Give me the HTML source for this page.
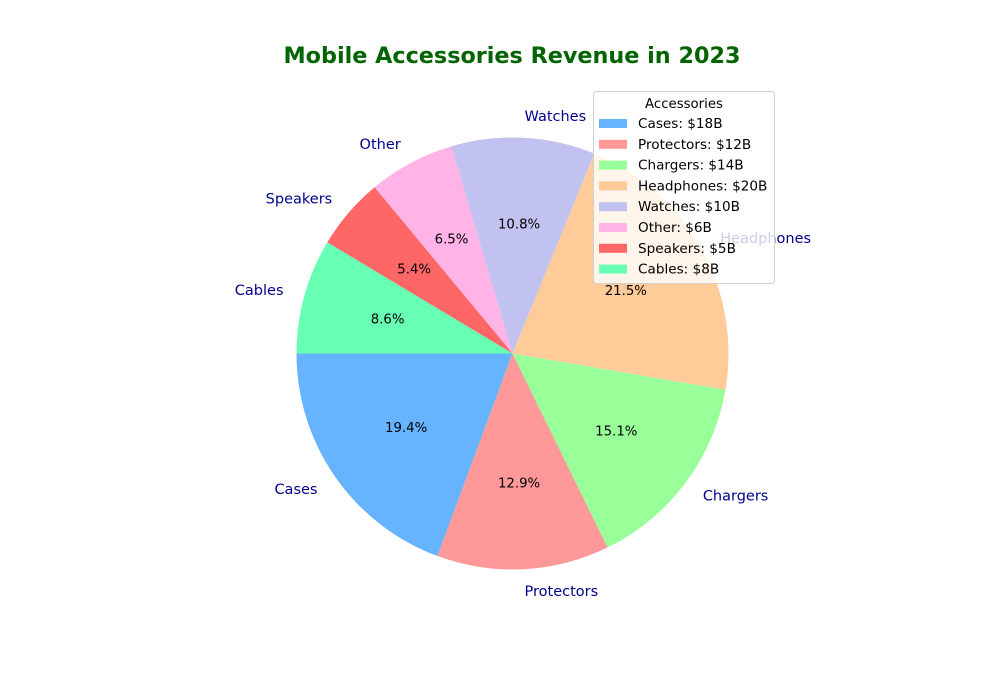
<!DOCTYPE html>
<html><head><meta charset="utf-8"><style>
body{margin:0;background:#fff;}
svg{display:block;font-family:"DejaVu Sans","Liberation Sans",sans-serif;}
</style></head><body>
<svg id="chart" width="1000" height="700">
<text x="512" y="63" text-anchor="middle" font-size="22.3" font-weight="bold" fill="#006400">Mobile Accessories Revenue in 2023</text>
<g id="slices"></g><g id="labels"></g><g id="legend"></g>
</svg>
<script>
const categories=["Cases","Protectors","Chargers","Headphones","Watches","Other","Speakers","Cables"];
const values=[18,12,14,20,10,6,5,8];
const colors=["#66b3ff","#ff9999","#99ff99","#ffcc99","#c2c2f0","#ffb3e6","#ff6666","#66ffb3"];
const NS="http://www.w3.org/2000/svg";
const cx=512.5,cy=353.5,r=216;
const total=values.reduce((a,b)=>a+b,0);
const pt=(deg,rad)=>[cx+rad*Math.cos(deg*Math.PI/180),cy-rad*Math.sin(deg*Math.PI/180)];
const sg=document.getElementById('slices'),lg=document.getElementById('labels'),leg=document.getElementById('legend');
let a=180;
values.forEach((v,i)=>{
  const sweep=v/total*360,a2=a+sweep;
  const [x1,y1]=pt(a,r),[x2,y2]=pt(a2,r);
  const p=document.createElementNS(NS,'path');
  p.setAttribute('d',`M${cx},${cy} L${x1},${y1} A${r},${r} 0 ${sweep>180?1:0} 0 ${x2},${y2} Z`);
  p.setAttribute('fill',colors[i]);
  
  
  sg.appendChild(p);
  const mid=(a+a2)/2;
  const [lx,ly]=pt(mid,r*1.1);
  const t=document.createElementNS(NS,'text');
  t.setAttribute('x',lx);t.setAttribute('y',ly+5);
  t.setAttribute('font-size','14.5');t.setAttribute('fill','#00008b');
  t.setAttribute('text-anchor',Math.cos(mid*Math.PI/180)<0?'end':'start');
  t.textContent=categories[i];
  
  
  lg.appendChild(t);
  const [px,py]=pt(mid,r*0.6);
  const q=document.createElementNS(NS,'text');
  q.setAttribute('x',px);q.setAttribute('y',py+4.5);
  q.setAttribute('font-size','13.3');q.setAttribute('text-anchor','middle');
  q.textContent=(v/total*100).toFixed(1)+'%';
  
  
  lg.appendChild(q);
  a=a2;
});
const box=document.createElementNS(NS,'rect');
box.setAttribute('x',593.5);box.setAttribute('y',91.5);box.setAttribute('width',181);box.setAttribute('height',192);box.setAttribute('rx',3);
box.setAttribute('fill','rgba(255,255,255,0.8)');box.setAttribute('stroke','#d0d0d0');


leg.appendChild(box);
const lt=document.createElementNS(NS,'text');
lt.setAttribute('x',684);lt.setAttribute('y',108);lt.setAttribute('font-size','13.3');lt.setAttribute('text-anchor','middle');
lt.textContent='Accessories';


leg.appendChild(lt);
categories.forEach((c,i)=>{
  const y=123+i*20.8;
  const s=document.createElementNS(NS,'rect');
  s.setAttribute('x',599);s.setAttribute('y',y-4);s.setAttribute('width',28);s.setAttribute('height',9);s.setAttribute('fill',colors[i]);
  
  
  leg.appendChild(s);
  const t=document.createElementNS(NS,'text');
  t.setAttribute('x',638);t.setAttribute('y',y+5);t.setAttribute('font-size','13.6');
  t.textContent=c+': $'+values[i]+'B';
  
  
  leg.appendChild(t);
});
</script>
</body></html>
